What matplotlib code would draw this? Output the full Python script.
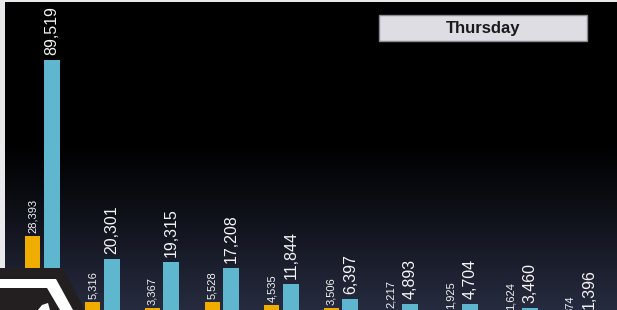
import numpy as np
import matplotlib
matplotlib.use("Agg")
import matplotlib.pyplot as plt
from matplotlib.patches import Rectangle, Polygon

plt.rcParams['font.family'] = ['Liberation Sans', 'DejaVu Sans']

# ---- data ----
categories = list(range(10))
orange_vals = [28393, 5316, 3367, 5528, 4535, 3506, 2217, 1925, 1624, 374]
blue_vals = [89519, 20301, 19315, 17208, 11844, 6397, 4893, 4704, 3460, 1396]
title_label = "Thursday"

W, H = 617, 310
fig = plt.figure(figsize=(W / 100, H / 100), dpi=100)
fig.patch.set_facecolor('#e9e9eb')

def px(x, y):
    return (x / W, 1 - y / H)

# background panel with gradient
bg = fig.add_axes([5 / W, 0, 1 - 5 / W, 1 - 2 / H])
bg.set_axis_off()
n = 310
rows = np.zeros((n, 1, 3))
top_c = np.array([0.0, 0.0, 0.0])
bot_c = np.array([0.15, 0.17, 0.25])
for i in range(n):
    t = (i - 140) / (n - 140)
    t = min(max(t, 0), 1) ** 1.1
    rows[i, 0] = top_c * (1 - t) + bot_c * t
bg.imshow(rows, aspect='auto', extent=[0, 1, 0, 1], origin='upper')
bg.set_xlim(0, 1)
bg.set_ylim(0, 1)

# chart axes
ax = fig.add_axes([0, 0, 1, 1])
ax.patch.set_alpha(0)
spacing = 59.7
x0 = 42.5
ax.set_xlim(-x0 / spacing, (W - x0) / spacing)
s = 347.3
lo = 2700
ax.set_ylim(lo, lo + H * s)
ax.set_axis_off()

xs = np.array(categories, dtype=float)
off = 9.5 / spacing
ax.bar(xs - off, orange_vals, width=15 / spacing, color='#f0ad00', bottom=0, zorder=2)
ax.bar(xs + off, blue_vals, width=16 / spacing, color='#5eb6cf', bottom=0, zorder=2)

for x, v in zip(xs, orange_vals):
    ax.annotate(f"{v:,}", (x - off, v), xytext=(0, 2.2), textcoords='offset points',
                rotation=90, ha='center', va='bottom', fontsize=8, color='#f2f2f2',
                zorder=3, annotation_clip=False)
for x, v in zip(xs, blue_vals):
    ax.annotate(f"{v:,}", (x + off, v), xytext=(0, 3.6), textcoords='offset points',
                rotation=90, ha='center', va='bottom', fontsize=11.5, color='#f5f5f5',
                zorder=3, annotation_clip=False)

# Thursday box
fig.patches.append(Rectangle(px(379, 41), 208 / W, 26 / H, transform=fig.transFigure,
                             facecolor='#dddde3', edgecolor='#8a8a90', linewidth=1, zorder=5))
fig.text(483 / W, 1 - 28 / H, title_label, ha='center', va='center', fontsize=12,
         fontweight='bold', color='#1a1a1a', zorder=6)

# logo overlay bottom-left
outer = [px(0, 268), px(63, 268), px(85, 310), px(0, 310)]
white = [px(0, 279), px(56, 279), px(73, 310), px(0, 310)]
inner = [px(0, 288), px(47, 288), px(60, 310), px(0, 310)]
arc = [px(38, 310), px(42, 305), px(48, 303), px(50, 310)]
for poly, col, z in [(outer, '#231f20', 7), (white, '#ffffff', 8), (inner, '#231f20', 9), (arc, '#ffffff', 10)]:
    fig.patches.append(Polygon(poly, closed=True, transform=fig.transFigure,
                               facecolor=col, edgecolor='none', zorder=z))

fig.savefig('out.png', dpi=100, facecolor=fig.get_facecolor())
